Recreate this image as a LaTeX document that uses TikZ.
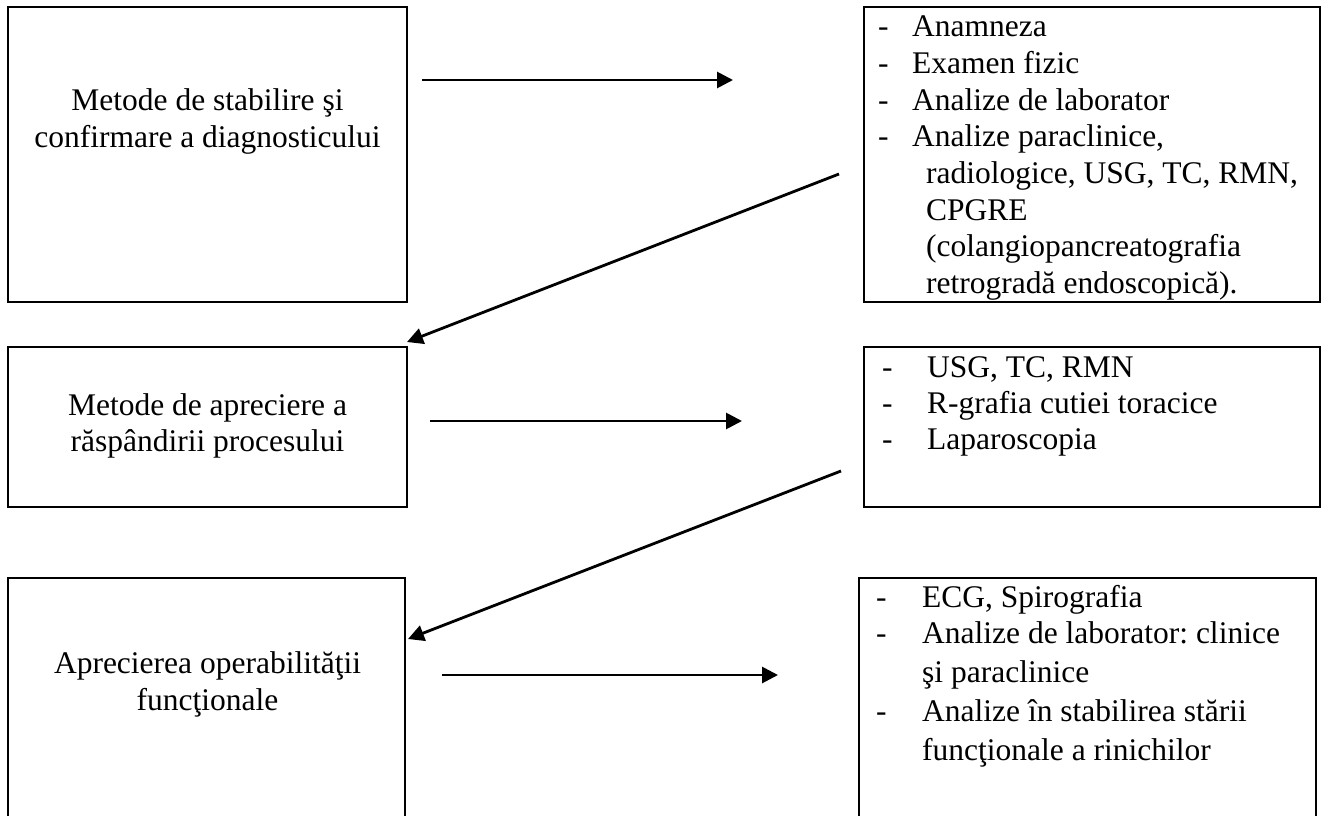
\documentclass[tikz,border=0pt]{standalone}
\usepackage{fontspec}
\setmainfont{Liberation Serif}
\usetikzlibrary{arrows.meta}
\frenchspacing
\begin{document}
\begin{tikzpicture}[x=1pt,y=-1pt,
  box/.style={draw, line width=2.6pt, inner sep=0pt},
  txt/.style={font=\fontsize{31.5}{36.6}\selectfont, inner sep=0pt, anchor=base},
  ltxt/.style={txt, anchor=base west},
  arr/.style={line width=2.8pt, -{Triangle[length=16pt,width=16pt]}}]
\useasboundingbox (0,0) rectangle (1322,816);
\clip (0,0) rectangle (1322,816);
\fill[white] (0,0) rectangle (1322,816);

% boxes
\node[box, minimum width=399pt, minimum height=295pt] (L1) at (207.5,154.5) {};
\node[box, minimum width=456pt, minimum height=295pt] (R1) at (1092,154.5) {};
\node[box, minimum width=399pt, minimum height=160pt] (L2) at (207.5,427) {};
\node[box, minimum width=456pt, minimum height=160pt] (R2) at (1092,427) {};
\node[box, minimum width=397pt, minimum height=260pt] (L3) at (206.5,708) {};
\node[box, minimum width=457pt, minimum height=260pt] (R3) at (1087.5,708) {};

% left texts
\node[txt] (l1a) at (207.5,110) {Metode de stabilire şi};
\node[txt] (l1b) at (207.5,147) {confirmare a diagnosticului};
\node[txt] (l2a) at (207.5,415) {Metode de apreciere a};
\node[txt] (l2b) at (207.5,451) {răspândirii procesului};
\node[txt] (l3a) at (207.5,673) {Aprecierea operabilităţii};
\node[txt] (l3b) at (207.5,710) {funcţionale};

% right box 1
\node[ltxt] (d11) at (878,37) {-};
\node[ltxt] (d12) at (878,73.6) {-};
\node[ltxt] (d13) at (878,110.2) {-};
\node[ltxt] (d14) at (878,146.8) {-};
\node[ltxt] (r11) at (912,37) {Anamneza};
\node[ltxt] (r12) at (912,73.6) {Examen fizic};
\node[ltxt] (r13) at (912,110.2) {Analize de laborator};
\node[ltxt] (r14) at (912,146.8) {Analize paraclinice,};
\node[ltxt] (r15) at (926,183.4) {radiologice, USG, TC, RMN,};
\node[ltxt] (r16) at (926,220) {CPGRE};
\node[ltxt] (r17) at (926,256.6) {(colangiopancreatografia};
\node[ltxt] (r18) at (926,293.2) {retrogradă endoscopică).};

% right box 2
\node[ltxt] (d21) at (882,377) {-};
\node[ltxt] (d22) at (882,413) {-};
\node[ltxt] (d23) at (882,449) {-};
\node[ltxt] (r21) at (927,377) {USG, TC, RMN};
\node[ltxt] (r22) at (927,413) {R-grafia cutiei toracice};
\node[ltxt] (r23) at (927,449) {Laparoscopia};

% right box 3
\node[ltxt] (d31) at (876,607) {-};
\node[ltxt] (d32) at (876,643) {-};
\node[ltxt] (d33) at (876,721) {-};
\node[ltxt] (r31) at (922,607) {ECG, Spirografia};
\node[ltxt] (r32) at (922,643) {Analize de laborator: clinice};
\node[ltxt] (r33) at (922,682) {şi paraclinice};
\node[ltxt] (r34) at (922,721) {Analize în stabilirea stării};
\node[ltxt] (r35) at (922,760) {funcţionale a rinichilor};

% arrow end points
\coordinate (a1s) at (422,80);   \coordinate (a1e) at (733,80);
\coordinate (a2s) at (839,174);  \coordinate (a2e) at (407,342);
\coordinate (a3s) at (430,421);  \coordinate (a3e) at (742,421);
\coordinate (a4s) at (841,471);  \coordinate (a4e) at (408,639);
\coordinate (a5s) at (442,675);  \coordinate (a5e) at (778,675);

\draw[arr] (a1s) -- (a1e);
\draw[arr] (a2s) -- (a2e);
\draw[arr] (a3s) -- (a3e);
\draw[arr] (a4s) -- (a4e);
\draw[arr] (a5s) -- (a5e);
\end{tikzpicture}
\end{document}
